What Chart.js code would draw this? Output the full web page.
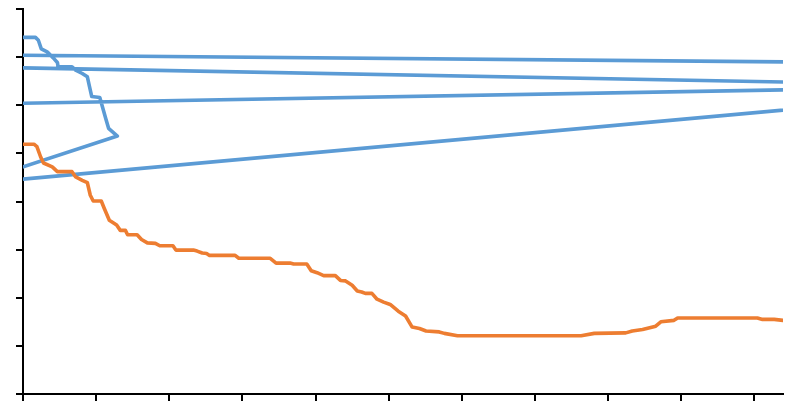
<!DOCTYPE html>
<html>
<head>
<meta charset="utf-8">
<script src="https://cdn.jsdelivr.net/npm/chart.js@4.4.1/dist/chart.umd.min.js"></script>
<style>
  html, body { margin: 0; padding: 0; background: #fff; }
  #chart { display: block; }
</style>
</head>
<body>
<canvas id="chart" width="794" height="404"></canvas>
<script>
// orange series
const orangeX = [0, 15, 19, 24, 28, 40, 47, 67, 72, 81, 88, 92, 96, 107, 111, 118, 128, 133, 140, 143,
  156, 162, 170, 181, 187, 205, 209, 233, 238, 245, 251, 255, 290, 295, 338, 346, 365, 370, 388, 394,
  402, 411, 427, 434, 441, 450, 457, 463, 468, 477, 484, 493, 502, 513, 523, 532, 542, 551, 569, 576,
  594, 763, 781, 824, 833, 847, 865, 872, 890, 895, 1004, 1011, 1027, 1039]
const orangeY = [51.9, 51.9, 51.4, 49.3, 48.0, 47.2, 46.2, 46.2, 45.1, 44.4, 43.9, 41.3, 40.1, 40.1, 38.6, 36.1, 35.1, 34.0, 34.0, 33.1,
  33.1, 32.1, 31.4, 31.3, 30.8, 30.8, 29.9, 29.9, 29.7, 29.3, 29.2, 28.8, 28.8, 28.2, 28.2, 27.2, 27.2, 27.0, 27.0, 25.6,
  25.2, 24.6, 24.6, 23.6, 23.5, 22.6, 21.4, 21.2, 20.9, 20.9, 19.7, 19.1, 18.6, 17.2, 16.2, 13.9, 13.6, 13.1, 12.9, 12.6,
  12.1, 12.1, 12.6, 12.7, 13.1, 13.4, 14.1, 15.0, 15.3, 15.8, 15.8, 15.5, 15.5, 15.3]

// blue series (scatter with lines, goes back and forth past both edges)
const blueX = [0, 17, 21, 25, 33, 41, 47, 48, 67, 72, 81, 88, 91, 94, 105, 108, 113, 117, 129,
  -10, -10, 1120, 1120, -10, -10, 1120, 1120, -10]
const blueY = [74.1, 74.1, 73.5, 71.7, 71.1, 69.9, 68.9, 68.0, 68.0, 67.3, 66.6, 65.9, 63.8, 61.8, 61.6, 60.0, 57.3, 55.2, 53.6,
  46.7, 44.5, 60.1, 63.4, 60.4, 67.8, 64.6, 68.9, 70.4]

const xMin = 0, xMax = 1039, xStep = 100
const yMin = 0, yMax = 80, yStep = 10

const toPoints = (xs, ys) => xs.map((x, i) => ({ x: x, y: ys[i] }))

const axis = (min, max, step) => ({
  type: "linear",
  min: min,
  max: max,
  z: 1,
  ticks: { display: false, stepSize: step, includeBounds: false },
  grid: { drawOnChartArea: false, drawTicks: true, tickLength: 7, color: "#000", lineWidth: 2 },
  border: { display: true, color: "#000", width: 2 }
})

new Chart(document.getElementById("chart"), {
  type: "scatter",
  data: {
    datasets: [
      {
        label: "orange",
        data: toPoints(orangeX, orangeY),
        showLine: true,
        borderColor: "#ED7D31",
        borderWidth: 3.6,
        pointRadius: 0,
        borderJoinStyle: "round",
        borderCapStyle: "round",
        clip: 0
      },
      {
        label: "blue",
        data: toPoints(blueX, blueY),
        showLine: true,
        borderColor: "#5B9BD5",
        borderWidth: 3.6,
        pointRadius: 0,
        borderJoinStyle: "round",
        borderCapStyle: "round",
        clip: 0
      }
    ]
  },
  options: {
    responsive: false,
    animation: false,
    layout: { padding: { left: 16, right: 11, top: 9, bottom: 3 } },
    plugins: { legend: { display: false }, tooltip: { enabled: false } },
    scales: {
      x: axis(xMin, xMax, xStep),
      y: axis(yMin, yMax, yStep)
    }
  }
})
</script>
</body>
</html>
